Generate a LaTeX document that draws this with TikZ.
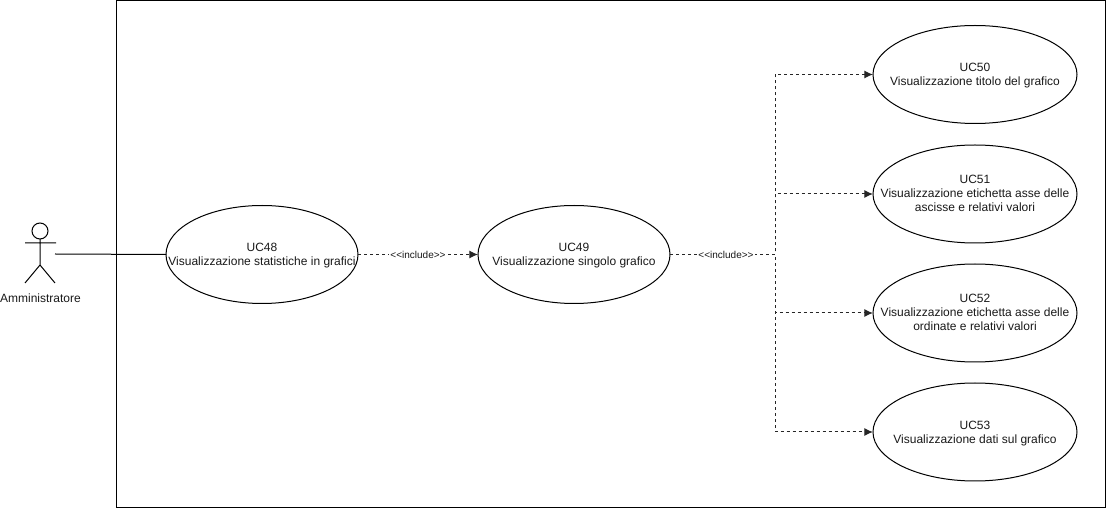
\documentclass[tikz,border=0pt]{standalone}
\usepackage{fontspec}
\setmainfont{Liberation Sans}
\usetikzlibrary{arrows.meta,calc,shapes.geometric}
\tikzset{
 usecase/.style={draw=black,ellipse,line width=0.75pt,inner sep=0pt,outer sep=0pt,minimum width=#1,minimum height=73.5pt},
 uc/.style={usecase=144pt},
 ucr/.style={usecase=153pt},
 uctext/.style={align=center,font=\fontsize{9}{10.5}\selectfont,text=black!90,inner sep=0pt},
 twoline/.style={uctext,yshift=-1pt},
 threeline/.style={uctext,yshift=0.6pt},
 dep/.style={draw=black!85,line width=0.75pt,dash pattern=on 2.25pt off 2.25pt},
 deparrow/.style={dep,-{Latex[length=6.5pt,width=6pt]}},
 lab/.style={font=\fontsize{7.5}{9}\selectfont,fill=white,inner sep=1pt,text=black!90},
 actorline/.style={draw=black,line width=0.75pt}
}
\begin{document}
\begin{tikzpicture}[x=0.75pt,y=-0.75pt]
\useasboundingbox (0,0) rectangle (1107,509);
\node[draw=black,line width=0.75pt,outer sep=0pt,minimum width=742.25pt,minimum height=380.25pt,inner sep=0pt,anchor=north west] (frame) at (116,0.5) {};
% actor
\node[draw=black,circle,line width=0.75pt,minimum size=12pt,inner sep=0pt,outer sep=0pt] (head) at (40,231) {};
\coordinate (neck) at (40,265);
\coordinate (armL) at (25,243);
\coordinate (armR) at (56,243);
\coordinate (legL) at (25,283);
\coordinate (legR) at (55,283);
\coordinate (hand) at (55,254);
\draw[actorline] (head.south) -- (neck) -- (legL) (neck) -- (legR) (armL) -- (armR);
\node[font=\fontsize{9}{10.5}\selectfont,text=black!90] (adm) at (40.5,298) {Amministratore};
% use cases
\node[uc,label={[twoline]center:UC48\\Visualizzazione statistiche in grafici}] (uc48) at (262,254.5) {};
\node[uc,label={[twoline]center:UC49\\Visualizzazione singolo grafico}] (uc49) at (574,254.5) {};
\node[ucr,label={[twoline]center:UC50\\Visualizzazione titolo del grafico}] (uc50) at (975,74.5) {};
\node[ucr,label={[threeline]center:UC51\\Visualizzazione etichetta asse delle\\ascisse e relativi valori}] (uc51) at (975,194) {};
\node[ucr,label={[threeline]center:UC52\\Visualizzazione etichetta asse delle\\ordinate e relativi valori}] (uc52) at (975,313) {};
\node[ucr,label={[twoline]center:UC53\\Visualizzazione dati sul grafico}] (uc53) at (975,432) {};
% connectors
\draw[actorline] (hand) -- (uc48.west);
\draw[deparrow] (uc48.east) -- node[lab] (i1) {<{}<include>{}>} (uc49.west);
\coordinate (bus) at (775,254.5);
\foreach \t in {uc50,uc51,uc52,uc53}{
 \draw[deparrow] (uc49.east) -- (bus) |- (\t.west);
}
\node[lab] (i2) at (726,254.5) {<{}<include>{}>};
\end{tikzpicture}
\end{document}
